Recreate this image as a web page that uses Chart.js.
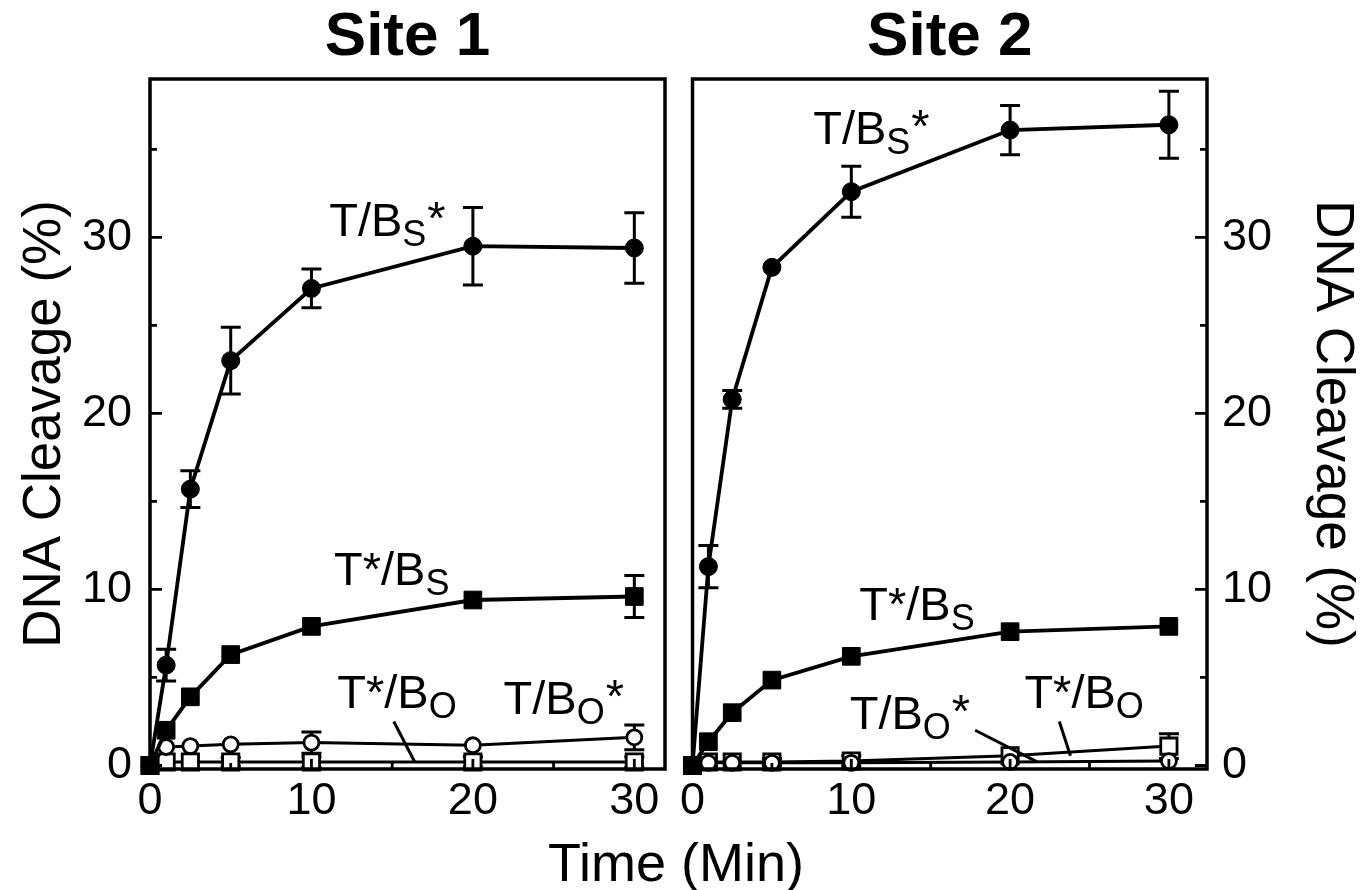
<!DOCTYPE html>
<html>
<head>
<meta charset="utf-8">
<script src="https://cdn.jsdelivr.net/npm/chart.js@4.4.0/dist/chart.umd.min.js"></script>
<style>
  body { margin: 0; background: #fff; width: 1361px; height: 890px; overflow: hidden; position: relative; font-family: 'Liberation Sans', Arial, sans-serif; }
  .painel { position: absolute; top: 0; height: 890px; }
  #p1 { left: 0; width: 680px; }
  #p2 { left: 674px; width: 687px; }
  #eixoX { position: absolute; left: 0; width: 1352px; top: 835px; text-align: center; font-size: 54px; line-height: 54px; color: #000; }
</style>
</head>
<body>
<div class="painel" id="p1"><canvas id="site1"></canvas></div>
<div class="painel" id="p2"><canvas id="site2"></canvas></div>
<div id="eixoX">Time (Min)</div>
<script>
// tempos de coleta (min)
const tempos = [0, 1, 2.5, 5, 10, 20, 30];
const ticksX = [0, 5, 10, 15, 20, 25, 30];
const ticksY = [0, 5, 10, 15, 20, 25, 30, 35];

// Site 1
const s1_TBs = [0, 5.7, 15.7, 23.0, 27.1, 29.5, 29.4];
const s1_TBs_err = [0, 0.9, 1.05, 1.9, 1.1, 2.2, 2.0];
const s1_TstBs = [0, 2.0, 3.9, 6.3, 7.9, 9.4, 9.6];
const s1_TstBs_err = [0, 0, 0, 0, 0, 0, 1.2];
const s1_TBo = [0, 1.05, 1.1, 1.2, 1.3, 1.15, 1.6];      // círculo aberto
const s1_TBo_err = [0, 0, 0, 0, 0.6, 0, 0.7];
const s1_TstBo = [0, 0.2, 0.2, 0.2, 0.2, 0.2, 0.2];      // quadrado aberto
const s1_TstBo_err = [0, 0, 0, 0.25, 0.3, 0.3, 0.3];

// Site 2
const s2_TBs = [0, 11.3, 20.8, 28.3, 32.6, 36.1, 36.4];
const s2_TBs_err = [0, 1.2, 0.5, 0, 1.45, 1.4, 1.9];
const s2_TstBs = [0, 1.35, 3.0, 4.85, 6.2, 7.6, 7.9];
const s2_TstBs_err = [0, 0, 0, 0, 0, 0, 0];
const s2_TBo = [0, 0.15, 0.15, 0.15, 0.15, 0.2, 0.25];
const s2_TBo_err = [0, 0, 0, 0, 0, 0, 0];
const s2_TstBo = [0, 0.2, 0.2, 0.2, 0.25, 0.55, 1.1];
const s2_TstBo_err = [0, 0, 0, 0.2, 0.3, 0, 0.7];

const FONTE = "'Liberation Sans', Arial, sans-serif";
Chart.defaults.font.family = FONTE;
Chart.defaults.color = '#000';

// rótulos dentro do gráfico: [texto, subscrito, final, x, y]
const rotulos1 = [
  ['T/B', 'S', '*', 11.1, 30.1],
  ['T*/B', 'S', '', 11.4, 10.25],
  ['T*/B', 'O', '', 11.6, 3.25],
  ['T/B', 'O', '*', 21.9, 2.9]
];
const setas1 = [[15.1, 2.5, 16.4, 0.2]];
const rotulos2 = [
  ['T/B', 'S', '*', 7.6, 35.3],
  ['T*/B', 'S', '', 10.5, 8.25],
  ['T/B', 'O', '*', 9.9, 2.1],
  ['T*/B', 'O', '', 20.9, 3.25]
];
const setas2 = [[17.8, 2.0, 21.7, 0.2], [23.1, 2.5, 23.8, 0.55]];

function pontos(vals) {
  return tempos.map((t, i) => ({ x: t, y: vals[i] }));
}

function serie(vals, erros, tipo) {
  const cheio = tipo === 'circulo' || tipo === 'quadrado';
  const quadrado = tipo === 'quadrado' || tipo === 'quadradoAberto';
  return {
    data: pontos(vals),
    erros: erros,
    borderColor: '#000',
    borderWidth: cheio ? 3.8 : 3,
    pointStyle: quadrado ? 'rect' : 'circle',
    pointRadius: quadrado ? (cheio ? 12.5 : 11.5) : (cheio ? 9 : 7.5),
    pointBackgroundColor: cheio ? '#000' : '#fff',
    pointBorderColor: '#000',
    pointBorderWidth: cheio ? 1 : 2.8,
    tension: 0,
    fill: false,
    clip: false
  };
}

// Barras de erro, moldura, marcas e rótulos
const pluginPainel = {
  id: 'painel',
  beforeDatasetsDraw(chart) {
    const ctx = chart.ctx, sx = chart.scales.x, sy = chart.scales.y;
    ctx.save();
    ctx.strokeStyle = '#000';
    ctx.lineWidth = 3;
    chart.data.datasets.forEach(ds => {
      ds.data.forEach((p, i) => {
        const e = ds.erros[i];
        if (!e) return;
        const px = sx.getPixelForValue(p.x);
        const y1 = sy.getPixelForValue(p.y + e);
        const y2 = sy.getPixelForValue(p.y - e);
        ctx.beginPath();
        ctx.moveTo(px, y1); ctx.lineTo(px, y2);
        ctx.moveTo(px - 10, y1); ctx.lineTo(px + 10, y1);
        ctx.moveTo(px - 10, y2); ctx.lineTo(px + 10, y2);
        ctx.stroke();
      });
    });
    ctx.restore();
  },
  afterDatasetsDraw(chart, args, opts) {
    const ctx = chart.ctx, a = chart.chartArea, sx = chart.scales.x, sy = chart.scales.y;
    ctx.save();
    ctx.strokeStyle = '#000';
    ctx.lineWidth = 3.5;
    ctx.strokeRect(a.left, a.top, a.right - a.left, a.bottom - a.top);

    ctx.lineWidth = 2.8;
    ctx.beginPath();
    ticksX.forEach(v => {
      const px = sx.getPixelForValue(v);
      const len = v % 10 === 0 ? 10 : 6;
      ctx.moveTo(px, a.bottom); ctx.lineTo(px, a.bottom - len);
    });
    const xb = opts.lado === 'right' ? a.right : a.left;
    const dir = opts.lado === 'right' ? -1 : 1;
    ticksY.forEach(v => {
      const py = sy.getPixelForValue(v);
      const len = v % 10 === 0 ? 12 : 7;
      ctx.moveTo(xb, py); ctx.lineTo(xb + dir * len, py);
    });
    ctx.stroke();

    // setas dos rótulos
    ctx.lineWidth = 3;
    ctx.beginPath();
    opts.setas.forEach(s => {
      ctx.moveTo(sx.getPixelForValue(s[0]), sy.getPixelForValue(s[1]));
      ctx.lineTo(sx.getPixelForValue(s[2]), sy.getPixelForValue(s[3]));
    });
    ctx.stroke();

    ctx.fillStyle = '#000';
    ctx.textBaseline = 'alphabetic';
    ctx.textAlign = 'left';
    opts.rotulos.forEach(r => {
      let x = sx.getPixelForValue(r[3]);
      const y = sy.getPixelForValue(r[4]);
      ctx.font = '47px ' + FONTE;
      ctx.fillText(r[0], x, y);
      x += ctx.measureText(r[0]).width;
      ctx.font = '36px ' + FONTE;
      ctx.fillText(r[1], x, y + 10);
      x += ctx.measureText(r[1]).width + 1;
      if (r[2]) {
        ctx.font = '47px ' + FONTE;
        ctx.fillText(r[2], x, y - 2);
      }
    });
    ctx.restore();
  }
};

function criarPainel(id, titulo, dados, lado, xMax, rotulos, setas) {
  const direita = lado === 'right';
  new Chart(document.getElementById(id), {
    type: 'line',
    data: { datasets: dados },
    plugins: [pluginPainel],
    options: {
      responsive: true,
      maintainAspectRatio: false,
      animation: false,
      layout: { padding: { left: direita ? 12 : 0, right: direita ? 0 : 15, top: 0, bottom: 0 } },
      plugins: {
        legend: { display: false },
        tooltip: { enabled: false },
        title: {
          display: true, text: titulo, fullSize: false, color: '#000',
          font: { size: 62, weight: 'bold', family: FONTE, lineHeight: 1.2 },
          padding: { top: 1, bottom: 3.6 }
        },
        painel: { lado: lado, rotulos: rotulos, setas: setas }
      },
      scales: {
        x: {
          type: 'linear', position: 'bottom', min: 0, max: xMax,
          afterBuildTicks: s => { s.ticks = ticksX.map(v => ({ value: v })); },
          afterFit: s => { s.height = 121; },
          grid: { display: false, drawTicks: false },
          border: { display: false },
          ticks: {
            autoSkip: false, maxRotation: 0, padding: 6, color: '#000',
            font: { size: 45, family: FONTE },
            callback: v => (v % 10 === 0 ? String(v) : '')
          }
        },
        y: {
          type: 'linear', position: lado, min: -0.2, max: 39,
          afterBuildTicks: s => { s.ticks = ticksY.map(v => ({ value: v })); },
          afterFit: s => { s.width = direita ? 154 : 150; },
          grid: { display: false, drawTicks: false },
          border: { display: false },
          ticks: {
            autoSkip: false, padding: direita ? 15 : 18, color: '#000',
            font: { size: 45, family: FONTE },
            callback: v => (v % 10 === 0 ? String(v) : '')
          },
          title: {
            display: true, text: 'DNA Cleavage (%)', color: '#000',
            font: { size: 53, family: FONTE, lineHeight: 1 },
            padding: { top: direita ? 2.5 : 19 }
          }
        }
      }
    }
  });
}

criarPainel('site1', 'Site 1', [
  serie(s1_TBs, s1_TBs_err, 'circulo'),
  serie(s1_TstBs, s1_TstBs_err, 'quadrado'),
  serie(s1_TBo, s1_TBo_err, 'circuloAberto'),
  serie(s1_TstBo, s1_TstBo_err, 'quadradoAberto')
], 'left', 31.9, rotulos1, setas1);

criarPainel('site2', 'Site 2', [
  serie(s2_TBs, s2_TBs_err, 'circulo'),
  serie(s2_TstBs, s2_TstBs_err, 'quadrado'),
  serie(s2_TBo, s2_TBo_err, 'circuloAberto'),
  serie(s2_TstBo, s2_TstBo_err, 'quadradoAberto')
], 'right', 32.4, rotulos2, setas2);
</script>
</body>
</html>
